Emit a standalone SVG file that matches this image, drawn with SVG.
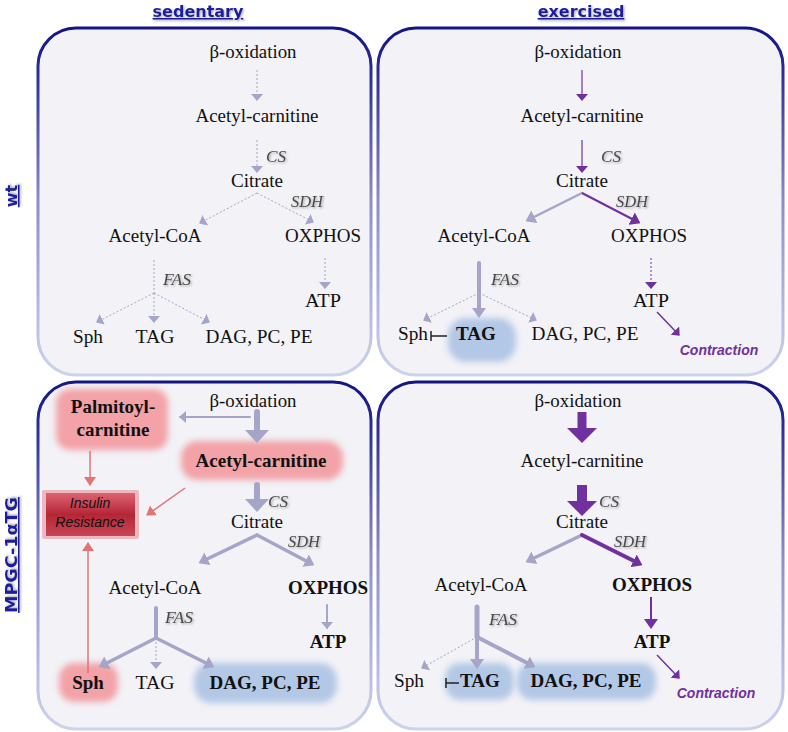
<svg xmlns="http://www.w3.org/2000/svg" width="788" height="732" viewBox="0 0 788 732">
<defs>
<linearGradient id="pg" x1="0" y1="0" x2="0" y2="1">
<stop offset="0" stop-color="#141482"/>
<stop offset="0.12" stop-color="#2a2a98"/>
<stop offset="0.5" stop-color="#8c8cc8"/>
<stop offset="1" stop-color="#cdd3ee"/>
</linearGradient>
<linearGradient id="ir" x1="0" y1="0" x2="0" y2="1">
<stop offset="0" stop-color="#dc6472"/>
<stop offset="0.5" stop-color="#b42636"/>
<stop offset="1" stop-color="#c84656"/>
</linearGradient>
<filter id="blur" x="-20%" y="-30%" width="140%" height="160%"><feGaussianBlur stdDeviation="3"/></filter>
<filter id="sh" x="-10%" y="-20%" width="130%" height="150%"><feDropShadow dx="1.2" dy="1.2" stdDeviation="0.8" flood-color="#888" flood-opacity="0.7"/></filter>
<marker id="als" viewBox="0 0 7 12" markerWidth="7" markerHeight="12" refX="6" refY="6" orient="auto" markerUnits="userSpaceOnUse"><path d="M0,0 L7,6 L0,12 z" fill="#a5a5c9"/></marker>
<marker id="aps" viewBox="0 0 7 12" markerWidth="7" markerHeight="12" refX="6" refY="6" orient="auto" markerUnits="userSpaceOnUse"><path d="M0,0 L7,6 L0,12 z" fill="#7030a0"/></marker>
<marker id="ars" viewBox="0 0 9 12" markerWidth="9" markerHeight="12" refX="8" refY="6" orient="auto" markerUnits="userSpaceOnUse"><path d="M0,0 L9,6 L0,12 z" fill="#e27474"/></marker>
<marker id="alm" viewBox="0 0 10 14" markerWidth="10" markerHeight="14" refX="5" refY="7" orient="auto" markerUnits="userSpaceOnUse"><path d="M0,0 L10,7 L0,14 z" fill="#a5a5c9"/></marker>
<marker id="apm" viewBox="0 0 10 14" markerWidth="10" markerHeight="14" refX="5" refY="7" orient="auto" markerUnits="userSpaceOnUse"><path d="M0,0 L10,7 L0,14 z" fill="#7030a0"/></marker>
<marker id="alb" viewBox="0 0 13 24" markerWidth="13" markerHeight="24" refX="1" refY="12" orient="auto" markerUnits="userSpaceOnUse"><path d="M0,0 L13,12 L0,24 z" fill="#a5a5c9"/></marker>
<marker id="apb" viewBox="0 0 15 30" markerWidth="15" markerHeight="30" refX="1" refY="15" orient="auto" markerUnits="userSpaceOnUse"><path d="M0,0 L15,15 L0,30 z" fill="#7030a0"/></marker>
</defs>
<style>
.t{font-family:"Liberation Serif","DejaVu Serif",serif;font-size:19px;fill:#111;text-anchor:middle}
.b{font-weight:bold}
.e{font-family:"Liberation Serif","DejaVu Serif",serif;font-style:italic;font-size:16px;fill:#4a4a4a}
.hd{font-family:"DejaVu Sans",sans-serif;font-weight:bold;font-size:16px;fill:#1c1ca0;text-decoration:underline;text-anchor:middle}
.panel{fill:#f2f2f7;stroke:url(#pg);stroke-width:3}
.lav{stroke:#a5a5c9;fill:none;stroke-linecap:round}
.pur{stroke:#7030a0;fill:none}
.pink{stroke:#e27474;fill:none}
.d{stroke-dasharray:2 2;stroke-width:1;stroke-linecap:butt}
.pinkbox{fill:#f3a2a7}
.bluebox{fill:#b3c8e6}
.ctr{font-family:"Liberation Sans",Arial,sans-serif;font-style:italic;font-weight:bold;font-size:14px;fill:#7030a0;text-anchor:middle}
.ir{font-family:"Liberation Sans",Arial,sans-serif;font-style:italic;font-size:14px;fill:#111;text-anchor:middle}
.inh{stroke:#222;stroke-width:1.5;fill:none}
</style>
<rect width="788" height="732" fill="#ffffff"/>

<g id="headers">
<text class="hd" x="198" y="17" filter="url(#sh)">sedentary</text>
<text class="hd" x="581" y="17" filter="url(#sh)">exercised</text>
<text class="hd" transform="translate(17,196) rotate(-90)" filter="url(#sh)">wt</text>
<text class="hd" transform="translate(17,555) rotate(-90)" textLength="116" lengthAdjust="spacingAndGlyphs" filter="url(#sh)">MPGC-1αTG</text>
</g>

<g id="panels">
<rect id="panel-tl" class="panel" x="38" y="28" width="333" height="347" rx="38"/>
<rect id="panel-tr" class="panel" x="378" y="28" width="405" height="347" rx="38"/>
<rect id="panel-bl" class="panel" x="38" y="382" width="333" height="347" rx="38"/>
<rect id="panel-br" class="panel" x="378" y="382" width="405" height="347" rx="38"/>
</g>

<!-- top-left: wt sedentary -->
<g id="tl-box">
<g id="tl-boxidation"><text class="t" x="253" y="58" textLength="87" lengthAdjust="spacingAndGlyphs">β-oxidation</text></g>
<g id="tl-acetylcarnitine"><text class="t" x="257" y="122" textLength="123" lengthAdjust="spacingAndGlyphs">Acetyl-carnitine</text></g>
<g id="tl-cs"><text class="e" x="266" y="162" textLength="20" lengthAdjust="spacingAndGlyphs" filter="url(#sh)">CS</text></g>
<g id="tl-citrate"><text class="t" x="257" y="187" textLength="52" lengthAdjust="spacingAndGlyphs">Citrate</text></g>
<g id="tl-sdh"><text class="e" x="291" y="207" textLength="32" lengthAdjust="spacingAndGlyphs" filter="url(#sh)">SDH</text></g>
<g id="tl-acetylcoa"><text class="t" x="155" y="242" textLength="93" lengthAdjust="spacingAndGlyphs">Acetyl-CoA</text></g>
<g id="tl-oxphos"><text class="t" x="323" y="242" textLength="76" lengthAdjust="spacingAndGlyphs">OXPHOS</text></g>
<g id="tl-fas"><text class="e" x="163" y="285" textLength="28" lengthAdjust="spacingAndGlyphs" filter="url(#sh)">FAS</text></g>
<g id="tl-atp"><text class="t" x="323" y="307" textLength="36" lengthAdjust="spacingAndGlyphs">ATP</text></g>
<g id="tl-sph"><text class="t" x="88" y="343" textLength="30" lengthAdjust="spacingAndGlyphs">Sph</text></g>
<g id="tl-tag"><text class="t" x="155" y="343" textLength="39" lengthAdjust="spacingAndGlyphs">TAG</text></g>
<g id="tl-dag"><text class="t" x="259" y="343" textLength="107" lengthAdjust="spacingAndGlyphs">DAG, PC, PE</text></g>
</g>

<!-- top-right: wt exercised -->
<g id="tr-box">
<g id="tr-boxidation"><text class="t" x="578" y="58" textLength="87" lengthAdjust="spacingAndGlyphs">β-oxidation</text></g>
<g id="tr-acetylcarnitine"><text class="t" x="582" y="122" textLength="123" lengthAdjust="spacingAndGlyphs">Acetyl-carnitine</text></g>
<g id="tr-cs"><text class="e" x="601" y="162" textLength="20" lengthAdjust="spacingAndGlyphs" filter="url(#sh)">CS</text></g>
<g id="tr-citrate"><text class="t" x="582" y="187" textLength="52" lengthAdjust="spacingAndGlyphs">Citrate</text></g>
<g id="tr-sdh"><text class="e" x="616" y="207" textLength="32" lengthAdjust="spacingAndGlyphs" filter="url(#sh)">SDH</text></g>
<g id="tr-acetylcoa"><text class="t" x="484" y="242" textLength="93" lengthAdjust="spacingAndGlyphs">Acetyl-CoA</text></g>
<g id="tr-oxphos"><text class="t" x="649" y="242" textLength="76" lengthAdjust="spacingAndGlyphs">OXPHOS</text></g>
<g id="tr-fas"><text class="e" x="491" y="285" textLength="28" lengthAdjust="spacingAndGlyphs" filter="url(#sh)">FAS</text></g>
<g id="tr-atp"><text class="t" x="651" y="307" textLength="36" lengthAdjust="spacingAndGlyphs">ATP</text></g>
<g id="tr-sph"><text class="t" x="413" y="340" textLength="30" lengthAdjust="spacingAndGlyphs">Sph</text></g>
<g id="tr-tag"><rect class="bluebox" x="448" y="318" width="68" height="44" rx="18" filter="url(#blur)"/><text class="t b" x="476" y="340">TAG</text></g>
<g id="tr-dag"><text class="t" x="585" y="340" textLength="107" lengthAdjust="spacingAndGlyphs">DAG, PC, PE</text></g>
<g id="tr-contraction"><text class="ctr" x="719" y="355">Contraction</text></g>
</g>

<!-- bottom-left: MPGC-1aTG sedentary -->
<g id="bl-box">
<g id="bl-boxidation"><text class="t" x="253" y="407" textLength="87" lengthAdjust="spacingAndGlyphs">β-oxidation</text></g>
<g id="bl-palmitoyl"><rect class="pinkbox" x="56" y="389" width="112" height="61" rx="14" filter="url(#blur)"/><text class="t b" x="113" y="413">Palmitoyl-</text><text class="t b" x="113" y="436">carnitine</text></g>
<g id="bl-acetylcarnitine"><rect class="pinkbox" x="181" y="441" width="162" height="39" rx="16" filter="url(#blur)"/><text class="t b" x="261" y="467">Acetyl-carnitine</text></g>
<g id="bl-insulin"><rect x="42" y="490" width="97" height="49" fill="#eeb8bf" rx="2"/><rect x="46" y="493" width="89" height="43" fill="url(#ir)"/><text class="ir" x="90" y="508">Insulin</text><text class="ir" x="90" y="527">Resistance</text></g>
<g id="bl-cs"><text class="e" x="268" y="507" textLength="20" lengthAdjust="spacingAndGlyphs" filter="url(#sh)">CS</text></g>
<g id="bl-citrate"><text class="t" x="257" y="528" textLength="52" lengthAdjust="spacingAndGlyphs">Citrate</text></g>
<g id="bl-sdh"><text class="e" x="288" y="547" textLength="32" lengthAdjust="spacingAndGlyphs" filter="url(#sh)">SDH</text></g>
<g id="bl-acetylcoa"><text class="t" x="155" y="594" textLength="93" lengthAdjust="spacingAndGlyphs">Acetyl-CoA</text></g>
<g id="bl-oxphos"><text class="t b" x="328" y="594">OXPHOS</text></g>
<g id="bl-fas"><text class="e" x="165" y="623" textLength="28" lengthAdjust="spacingAndGlyphs" filter="url(#sh)">FAS</text></g>
<g id="bl-atp"><text class="t b" x="328" y="648">ATP</text></g>
<g id="bl-sph"><rect class="pinkbox" x="59" y="663" width="59" height="39" rx="15" filter="url(#blur)"/><text class="t b" x="88" y="689">Sph</text></g>
<g id="bl-tag"><text class="t" x="155" y="689" textLength="39" lengthAdjust="spacingAndGlyphs">TAG</text></g>
<g id="bl-dag"><rect class="bluebox" x="194" y="663" width="143" height="40" rx="17" filter="url(#blur)"/><text class="t b" x="265" y="689">DAG, PC, PE</text></g>
</g>

<!-- bottom-right: MPGC-1aTG exercised -->
<g id="br-box">
<g id="br-boxidation"><text class="t" x="578" y="407" textLength="87" lengthAdjust="spacingAndGlyphs">β-oxidation</text></g>
<g id="br-acetylcarnitine"><text class="t" x="582" y="467" textLength="123" lengthAdjust="spacingAndGlyphs">Acetyl-carnitine</text></g>
<g id="br-cs"><text class="e" x="599" y="507" textLength="20" lengthAdjust="spacingAndGlyphs" filter="url(#sh)">CS</text></g>
<g id="br-citrate"><text class="t" x="582" y="528" textLength="52" lengthAdjust="spacingAndGlyphs">Citrate</text></g>
<g id="br-sdh"><text class="e" x="614" y="547" textLength="32" lengthAdjust="spacingAndGlyphs" filter="url(#sh)">SDH</text></g>
<g id="br-acetylcoa"><text class="t" x="481" y="591" textLength="93" lengthAdjust="spacingAndGlyphs">Acetyl-CoA</text></g>
<g id="br-oxphos"><text class="t b" x="652" y="591">OXPHOS</text></g>
<g id="br-fas"><text class="e" x="489" y="625" textLength="28" lengthAdjust="spacingAndGlyphs" filter="url(#sh)">FAS</text></g>
<g id="br-atp"><text class="t b" x="652" y="648">ATP</text></g>
<g id="br-sph"><text class="t" x="409" y="687" textLength="30" lengthAdjust="spacingAndGlyphs">Sph</text></g>
<g id="br-tag"><rect class="bluebox" x="445" y="663" width="69" height="37" rx="15" filter="url(#blur)"/><text class="t b" x="480" y="687">TAG</text></g>
<g id="br-dag"><rect class="bluebox" x="517" y="663" width="139" height="37" rx="15" filter="url(#blur)"/><text class="t b" x="586" y="687">DAG, PC, PE</text></g>
<g id="br-contraction"><text class="ctr" x="716" y="698">Contraction</text></g>
</g>

<g id="connectors">
<!-- TL -->
<line class="lav d" x1="257" y1="70" x2="257" y2="100" marker-end="url(#als)"/>
<line class="lav d" x1="257" y1="140" x2="257" y2="172" marker-end="url(#als)"/>
<line class="lav d" x1="257" y1="193" x2="200" y2="223" marker-end="url(#als)"/>
<line class="lav d" x1="257" y1="193" x2="313" y2="222" marker-end="url(#als)"/>
<line class="lav d" x1="154" y1="260" x2="154" y2="293"/>
<line class="lav d" x1="154" y1="293" x2="97" y2="322" marker-end="url(#als)"/>
<line class="lav d" x1="154" y1="293" x2="154" y2="322" marker-end="url(#als)"/>
<line class="lav d" x1="154" y1="293" x2="209" y2="322" marker-end="url(#als)"/>
<line class="lav d" x1="325" y1="258" x2="325" y2="288" marker-end="url(#als)"/>
<!-- TR -->
<line class="pur" stroke-width="1.2" x1="582" y1="70" x2="582" y2="100" marker-end="url(#aps)"/>
<line class="pur" stroke-width="1.2" x1="582" y1="140" x2="582" y2="172" marker-end="url(#aps)"/>
<line class="lav" stroke-width="2.5" x1="582" y1="193" x2="530" y2="219" marker-end="url(#alm)"/>
<line class="pur" stroke-width="2" x1="582" y1="193" x2="636" y2="221" marker-end="url(#apm)"/>
<line class="lav" stroke-width="4" x1="479" y1="263" x2="479" y2="313" marker-end="url(#alm)"/>
<line class="lav d" x1="479" y1="293" x2="424" y2="320" marker-end="url(#als)"/>
<line class="lav d" x1="479" y1="293" x2="536" y2="320" marker-end="url(#als)"/>
<line class="pur d" x1="651" y1="258" x2="651" y2="288" marker-end="url(#aps)"/>
<line class="pur" stroke-width="1.5" x1="657" y1="312" x2="679" y2="335" marker-end="url(#aps)"/>
<path class="inh" d="M431,331 V341 M431,336 H447"/>
<!-- BL -->
<line class="lav" stroke-width="2" x1="250" y1="417" x2="180" y2="417" marker-end="url(#als)"/>
<line class="lav" stroke-width="6" stroke-linecap="butt" x1="257" y1="412" x2="257" y2="431" marker-end="url(#alb)"/>
<line class="pink" stroke-width="1.5" x1="90" y1="451" x2="90" y2="485" marker-end="url(#ars)"/>
<line class="pink" stroke-width="1.5" x1="185" y1="488" x2="147" y2="515" marker-end="url(#ars)"/>
<line class="pink" stroke-width="1.5" x1="88" y1="673" x2="88" y2="543" marker-end="url(#ars)"/>
<line class="lav" stroke-width="6" stroke-linecap="butt" x1="257" y1="485" x2="257" y2="500" marker-end="url(#alb)"/>
<line class="lav" stroke-width="3.5" x1="257" y1="535" x2="203" y2="561" marker-end="url(#alm)"/>
<line class="lav" stroke-width="3.5" x1="257" y1="535" x2="310" y2="563" marker-end="url(#alm)"/>
<line class="lav" stroke-width="4" x1="156" y1="608" x2="156" y2="638"/>
<line class="lav" stroke-width="3.5" x1="156" y1="638" x2="103" y2="665" marker-end="url(#alm)"/>
<line class="lav" stroke-width="3.5" x1="156" y1="638" x2="210" y2="665" marker-end="url(#alm)"/>
<line class="lav d" x1="156" y1="638" x2="156" y2="668" marker-end="url(#als)"/>
<line class="lav" stroke-width="2" x1="327" y1="605" x2="327" y2="628" marker-end="url(#als)"/>
<!-- BR -->
<line class="pur" stroke-width="9" x1="582" y1="412" x2="582" y2="429" marker-end="url(#apb)"/>
<line class="pur" stroke-width="10" x1="582" y1="485" x2="582" y2="502" marker-end="url(#apb)"/>
<line class="lav" stroke-width="3.5" x1="582" y1="535" x2="530" y2="560" marker-end="url(#alm)"/>
<line class="pur" stroke-width="4" stroke-linecap="round" x1="582" y1="535" x2="638" y2="563" marker-end="url(#apm)"/>
<line class="lav" stroke-width="5" x1="477" y1="607" x2="477" y2="637"/>
<line class="lav d" x1="477" y1="637" x2="422" y2="668" marker-end="url(#als)"/>
<line class="lav" stroke-width="4" x1="477" y1="637" x2="477" y2="664" marker-end="url(#alm)"/>
<line class="lav" stroke-width="4" x1="477" y1="637" x2="531" y2="665" marker-end="url(#alm)"/>
<line class="pur" stroke-width="2" x1="651" y1="597" x2="651" y2="624" marker-end="url(#apm)"/>
<line class="pur" stroke-width="1.5" x1="657" y1="655" x2="679" y2="678" marker-end="url(#aps)"/>
<path class="inh" d="M446,678 V688 M446,683 H459"/>
</g>
</svg>
